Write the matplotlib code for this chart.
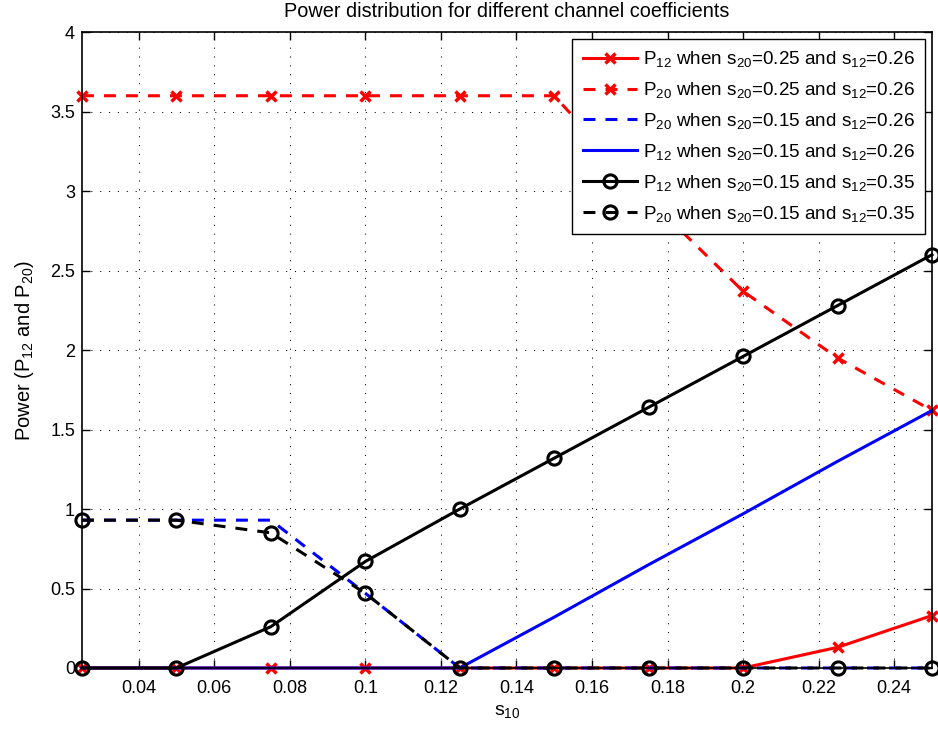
import matplotlib
matplotlib.use("Agg")
import matplotlib.pyplot as plt

plt.rcParams['font.family'] = ['Liberation Sans', 'DejaVu Sans']
plt.rcParams['mathtext.default'] = 'regular'

s10 = [0.025, 0.05, 0.075, 0.1, 0.125, 0.15, 0.175, 0.2, 0.225, 0.25]

p12_a = [0, 0, 0, 0, 0, 0, 0, 0, 0.13, 0.33]
p20_a = [3.6, 3.6, 3.6, 3.6, 3.6, 3.6, 2.95, 2.37, 1.95, 1.62]
p20_b = [0.93, 0.93, 0.93, 0.47, 0, 0, 0, 0, 0, 0]
p12_b = [0, 0, 0, 0, 0, 0.32, 0.65, 0.97, 1.30, 1.62]
p12_c = [0, 0, 0.26, 0.67, 1.0, 1.32, 1.64, 1.96, 2.28, 2.60]
p20_c = [0.93, 0.93, 0.85, 0.47, 0, 0, 0, 0, 0, 0]

labels = ['P$_{12}$ when s$_{20}$=0.25 and s$_{12}$=0.26',
          'P$_{20}$ when s$_{20}$=0.25 and s$_{12}$=0.26',
          'P$_{20}$ when s$_{20}$=0.15 and s$_{12}$=0.26',
          'P$_{12}$ when s$_{20}$=0.15 and s$_{12}$=0.26',
          'P$_{12}$ when s$_{20}$=0.15 and s$_{12}$=0.35',
          'P$_{20}$ when s$_{20}$=0.15 and s$_{12}$=0.35']

fig = plt.figure(figsize=(9.38, 7.31), dpi=100)
ax = fig.add_axes([0.0874, 0.0862, 0.9062, 0.8698])

lw = 2.2
dash = (0, (3.9, 3.3))
circ = dict(marker='o', markersize=9.5, markerfacecolor='none', markeredgewidth=2.2, clip_on=False)
xm = dict(marker='x', markersize=6.5, markeredgewidth=2.5, clip_on=False)

# plotted in legend order, later ones on top (as the original)
h_a12, = ax.plot(s10, p12_a, color='red', lw=lw, label=labels[0], **xm)
h_a20, = ax.plot(s10, p20_a, color='red', lw=lw, ls=dash, label=labels[1], **xm)
h_b20, = ax.plot(s10, p20_b, color='blue', lw=lw, ls=dash, label=labels[2], clip_on=False)
h_b12, = ax.plot(s10, p12_b, color='blue', lw=lw, label=labels[3], clip_on=False)
h_c12, = ax.plot(s10, p12_c, color='black', lw=lw, label=labels[4], **circ)
h_c20, = ax.plot(s10, p20_c, color='black', lw=lw, ls=dash, label=labels[5], **circ)

ax.set_xlim(0.025, 0.25)
ax.set_ylim(0, 4)
ax.set_xticks([0.04, 0.06, 0.08, 0.1, 0.12, 0.14, 0.16, 0.18, 0.2, 0.22, 0.24])
ax.set_xticklabels(['0.04', '0.06', '0.08', '0.1', '0.12', '0.14', '0.16', '0.18', '0.2', '0.22', '0.24'])
ax.set_yticks([0, 0.5, 1, 1.5, 2, 2.5, 3, 3.5, 4])
ax.set_yticklabels(['0', '0.5', '1', '1.5', '2', '2.5', '3', '3.5', '4'])
ax.tick_params(direction='in', top=True, right=True, labelsize=13, length=6, width=1)
ax.tick_params(axis='x', pad=9)
ax.tick_params(axis='y', pad=5)
ax.grid(True, ls=(0, (1, 7.5)), color='black', lw=0.75)
for sp in ax.spines.values():
    sp.set_linewidth(1.2)

ax.set_xlabel('s$_{10}$', fontsize=14, labelpad=4)
ax.set_ylabel('Power (P$_{12}$ and P$_{20}$)', fontsize=14.5, labelpad=10)
ax.set_title('Power distribution for different channel coefficients', fontsize=14.3, pad=11)

leg = ax.legend(handles=[h_a12, h_a20, h_b20, h_b12, h_c12, h_c20],
                loc='upper right', fontsize=13.6, handlelength=2.9,
                borderaxespad=0.35, fancybox=False, framealpha=1,
                edgecolor='black', labelspacing=0.58, handletextpad=0.3,
                borderpad=0.55)
leg.get_frame().set_linewidth(1.0)
leg.set_zorder(10)

fig.savefig('out.png', dpi=100)
